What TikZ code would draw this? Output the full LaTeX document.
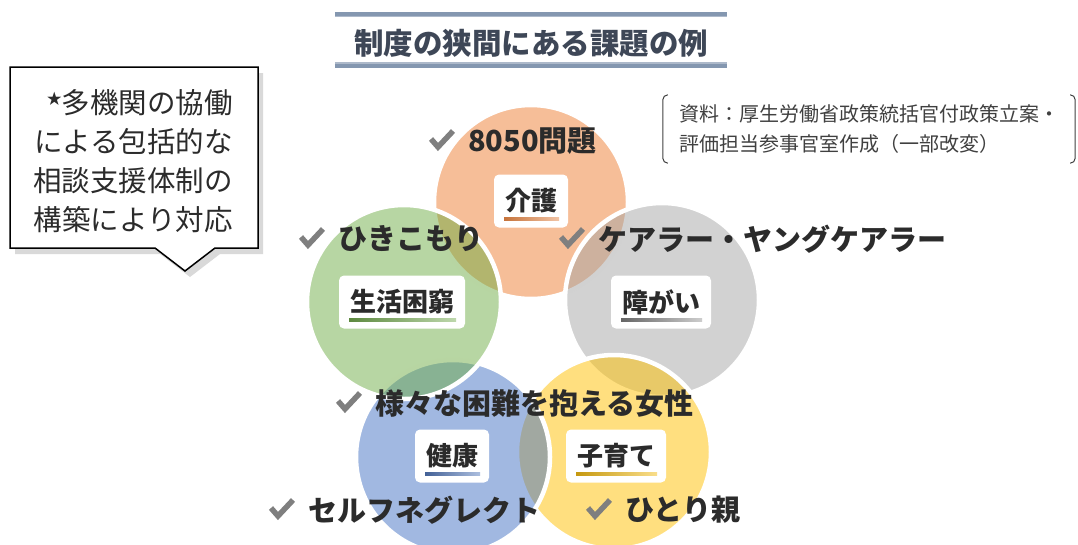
\documentclass[tikz,border=0pt]{standalone}
\usepackage{fontspec}
\setmainfont{Noto Sans CJK JP}
\usetikzlibrary{positioning,shadows}

\definecolor{ink}{HTML}{2B2B2B}
\definecolor{titleink}{HTML}{3E4757}
\definecolor{tickgray}{HTML}{7F7F7F}
\definecolor{notegray}{HTML}{404040}
\definecolor{ruledark}{HTML}{8497B0}
\definecolor{rulelight}{HTML}{ADB9CA}
\definecolor{kaigoC}{HTML}{ED7D31}
\definecolor{shogaiC}{HTML}{A5A5A5}
\definecolor{kosodateC}{HTML}{FFC000}
\definecolor{kenkoC}{HTML}{4472C4}
\definecolor{seikatsuC}{HTML}{70AD47}

\begin{document}
\begin{tikzpicture}[x=1pt, y=-1pt,
        ring/.style={circle, draw=white, line width=4.5pt, fill opacity=0.5, minimum size=194pt, inner sep=0pt},
        lbl/.style 2 args={rectangle, rounded corners=5pt, fill=white, minimum height=53pt, inner xsep=11pt, inner ysep=0pt,
            font=\fontsize{26}{26}\selectfont\bfseries, text=ink,
            path picture={\shade[sharp corners, left color=#1, right color=#2] ([xshift=10pt, yshift=7pt]path picture bounding box.south west) rectangle ([xshift=-9pt, yshift=10pt]path picture bounding box.south east);}},
        issue/.style={anchor=west, inner sep=0pt, font=\fontsize{29}{29}\selectfont\bfseries, text=ink},
        tickmark/.pic={\draw[line width=5.5pt, draw=tickgray] (-11,-1) -- (-4,7) -- (11,-9);},
        rule/.style={line width=4pt, draw=ruledark},
        thinrule/.style={line width=1.5pt, draw=rulelight},
        callbox/.style={draw=black, line width=1.5pt, fill=white, drop shadow={shadow xshift=5pt, shadow yshift=-6pt, opacity=0.3}},
        bracket/.style={draw=notegray, line width=1pt, rounded corners=5pt}
    ]
        \useasboundingbox (0,0) rectangle (1078,544);

        % title with double rules
        \node[font=\fontsize{29.5}{29.5}\selectfont\bfseries, text=titleink, minimum width=392pt, minimum height=54pt, inner sep=0pt] (title) at (531,43) {制度の狭間にある課題の例};
        \draw[rule] ([yshift=2pt]title.north west) -- ([yshift=2pt]title.north east);
        \draw[thinrule] ([yshift=-0.75pt]title.north west) -- ([yshift=-0.75pt]title.north east);
        \draw[thinrule] ([yshift=7pt]title.south west) -- ([yshift=7pt]title.south east);
        \draw[rule] ([yshift=4pt]title.south west) -- ([yshift=4pt]title.south east);

        % callout
        \draw[callbox] (10,67) -- (258,67) -- (258,248) -- (215,248) -- (185,271) -- (155,248) -- (10,248) -- cycle;
        \node[align=right, font=\fontsize{28.5}{39}\selectfont, text=ink, inner sep=0pt] (callout) at (133,161) {\raisebox{9pt}{\fontsize{15}{15}\selectfont ★}多機関の協働\\による包括的な\\相談支援体制の\\構築により対応};

        % source note
        \node[minimum width=412pt, minimum height=68pt, inner sep=0pt, align=left, font=\fontsize{20}{30}\selectfont, text=notegray] (src) at (869,129) {資料：厚生労働省政策統括官付政策立案・\\評価担当参事官室作成（一部改変）};
        \draw[bracket] ([xshift=5pt]src.north west) -- (src.north west) -- (src.south west) -- ([xshift=5pt]src.south west);
        \draw[bracket] ([xshift=-5pt]src.north east) -- (src.north east) -- (src.south east) -- ([xshift=-5pt]src.south east);

        % circles
        \node[ring, fill=kaigoC] (kaigo) at (531,202) {};
        \node[ring, fill=shogaiC] (shogai) at (662,300) {};
        \node[ring, fill=kosodateC] (kosodate) at (614,452) {};
        \node[ring, fill=kenkoC] (kenko) at (453,457) {};
        \node[ring, fill=seikatsuC] (seikatsu) at (404,302) {};

        \node[lbl={kaigoC!80!black}{kaigoC!35}] (kaigoL) at (531,201) {介護};
        \node[lbl={seikatsuC!75!black}{seikatsuC!40}] (seikatsuL) at (402,302) {生活困窮};
        \node[lbl={black!65}{black!15}] (shogaiL) at (661,302) {障がい};
        \node[lbl={kenkoC!70!black}{kenkoC!35}] (kenkoL) at (452,456) {健康};
        \node[lbl={kosodateC!75!black}{kosodateC!40}] (kosodateL) at (616,456) {子育て};

        % issues
        \node[issue] (i8050) at (468,141) {8050問題};
        \node[issue] (hikikomori) at (338,239) {ひきこもり};
        \node[issue] (carer) at (598,239) {ケアラー・ヤングケアラー};
        \node[issue] (women) at (375,403) {様々な困難を抱える女性};
        \node[issue] (selfneglect) at (308,510) {セルフネグレクト};
        \node[issue] (single) at (625,510) {ひとり親};
        \foreach \n in {i8050,hikikomori,carer,women,selfneglect,single}
            \pic at ([xshift=-26pt, yshift=1pt]\n.west) {tickmark};
    \end{tikzpicture}
\end{document}
